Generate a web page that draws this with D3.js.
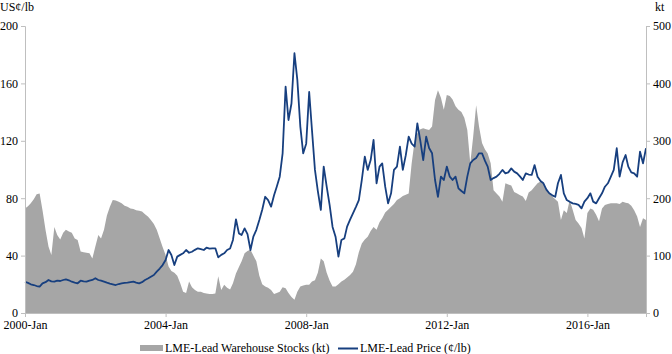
<!DOCTYPE html>
<head>
    <style>
        body { margin: 0; background: #fff; }
        svg { display: block; font-family: "Liberation Serif", "Times New Roman", serif; }
        .axis path, .axis line { stroke: #bfbfbf; }
        .axis text { fill: #000; font-size: 12px; font-family: "Liberation Serif", serif; }
    </style>
</head>
<body>
    <script src="https://d3js.org/d3.v7.min.js"></script>
    <script>
        // monthly values, 2000-Jan .. 2017-Sep
        var price = [
            21.8, 21, 20, 19.5, 18.8, 18.4, 20.7, 21.5, 23, 22, 21.8, 22.5,
            22.3, 23, 23.5, 22.8, 21.8, 21.2, 20.7, 22.5, 22, 21.8, 22.5, 23,
            24.2, 23, 22.5, 21.8, 21.1, 20.5, 20, 19.5, 20.2, 20.7, 21, 21.1,
            21.5, 21.8, 21.2, 20.7, 21.5, 23, 24, 25.3, 26.5, 28.8, 31, 33.4,
            36.9, 43.9, 40.4, 33.4, 39.3, 40.5, 41.6, 43.9, 42, 42.7, 44, 45.1,
            44.5, 43.9, 45.5, 44.8, 45.1, 45.1, 38.8, 40.5, 41.6, 43.9, 45, 50.9,
            65.3, 55.5, 54.4, 59, 55, 43.9, 53.2, 58, 64.8, 72, 81, 78.7,
            74.1, 82, 88, 95, 111.3, 157.7, 134.5, 146, 181, 162.4, 129.9, 111.3,
            118, 154, 127.5, 99.7, 85, 71.8, 102, 88, 75, 60, 53.2, 39.3,
            50.9, 52, 60.2, 65, 69.5, 74, 78.7, 92.7, 108.9, 99.7, 106.6, 120.6,
            90.4, 102, 104.3, 88, 76.4, 83.4, 99.7, 102, 116, 99.7, 110, 122.9,
            118, 116, 132.2, 120, 106.6, 122.9, 115, 111.3, 92.7, 81, 95, 92.7,
            102, 95, 92.7, 95, 86.9, 85, 83.4, 95, 104.3, 106.6, 108, 111.3,
            111.3, 106, 102, 92.7, 94, 95, 97, 99.7, 97.3, 98, 100.8, 98.5,
            97.3, 95, 92.7, 97.3, 96.5, 96.2, 103.1, 95, 92, 90.4, 86, 83.4,
            82, 81, 90.4, 96.2, 83.4, 78.7, 77.5, 76.4, 76, 75.3, 72.9, 77.6,
            80, 83.4, 77.6, 76.4, 80, 83.4, 88, 90.4, 95, 99.7, 114.8, 95,
            105, 110.1, 102, 98, 97.3, 95, 112.4, 104.3, 114.8
        ];

        var stocks = [
            182, 186, 191, 198, 207, 208, 179, 145, 116, 101, 150, 136,
            128, 140, 145, 142, 140, 130, 127, 107, 106, 105, 104, 95,
            116, 136, 130, 145, 170, 185, 197, 196, 194, 191, 187, 185,
            182, 181, 179, 178, 177, 172, 168, 162, 155, 145, 130, 115,
            101, 81, 73, 70, 65, 52, 37, 35, 55, 45, 40, 37,
            37, 35, 34, 33, 33, 34, 64, 40, 49, 44, 41, 52,
            69, 80, 90, 104, 108, 110, 100, 90, 65, 50, 46, 44,
            40, 33, 35, 37, 45, 43, 35, 28, 23, 37, 46, 48,
            49, 49, 55, 57, 70, 95, 90, 70, 56, 46, 46, 50,
            55, 58, 62, 66, 72, 85, 106, 121, 128, 133, 143, 150,
            145, 158, 165, 175, 180, 185, 190, 197, 200, 204, 206, 208,
            261, 300, 313, 320, 322, 320, 319, 325, 371, 388, 375, 354,
            380, 378, 372, 360, 354, 350, 340, 319, 261, 307, 362, 325,
            296, 285, 278, 261, 214, 208, 203, 194, 226, 224, 222, 211,
            208, 205, 203, 195, 210, 214, 220, 226, 229, 225, 214, 208,
            203, 198, 194, 162, 179, 174, 197, 180, 162, 156, 148, 130,
            174, 182, 180, 171, 160, 182, 188, 190, 191, 191, 191, 190,
            194, 192, 191, 187, 179, 168, 150, 165, 162
        ];

        var tickYears = [2000, 2004, 2008, 2012, 2016];
        var priceTicks = [0, 40, 80, 120, 160, 200];
        var stockTicks = [0, 100, 200, 300, 400, 500];

        var start = new Date(2000, 0, 1);
        var months = price.map((d, i) => d3.timeMonth.offset(start, i));

        var width = 672, height = 354;
        var svg = d3.select('body')
                    .append('svg')
                    .attr('width', width)
                    .attr('height', height);

        var x = d3.scaleTime()
                  .domain([start, months[months.length - 1]])
                  .range([25, 646]);
        var yLeft = d3.scaleLinear().domain([0, 200]).range([313, 26]);
        var yRight = d3.scaleLinear().domain([0, 500]).range([313, 26]);

        var area = d3.area()
                     .x((d, i) => x(months[i]))
                     .y0(yRight(0))
                     .y1((d) => yRight(d));

        svg.append('path')
           .datum(stocks)
           .attr('d', area)
           .attr('fill', '#a6a6a6');

        var line = d3.line()
                     .x((d, i) => x(months[i]))
                     .y((d) => yLeft(d));

        svg.append('path')
           .datum(price)
           .attr('d', line)
           .attr('fill', 'none')
           .attr('stroke', '#173f7f')
           .attr('stroke-width', 1.8)
           .attr('stroke-linejoin', 'round');

        var fmt = d3.timeFormat('%Y-%b');
        svg.append('g')
           .attr('class', 'axis')
           .attr('transform', 'translate(0,313)')
           .call(d3.axisBottom(x)
                   .tickValues(tickYears.map((y) => new Date(y, 0, 1)))
                   .tickFormat(fmt)
                   .tickSizeOuter(0)
                   .tickSize(4)
                   .tickPadding(3));

        svg.append('g')
           .attr('class', 'axis')
           .attr('transform', 'translate(25,0)')
           .call(d3.axisLeft(yLeft)
                   .tickValues(priceTicks)
                   .tickSizeOuter(0)
                   .tickSize(4)
                   .tickPadding(3));

        svg.append('g')
           .attr('class', 'axis')
           .attr('transform', 'translate(646,0)')
           .call(d3.axisRight(yRight)
                   .tickValues(stockTicks)
                   .tickSizeOuter(0)
                   .tickSize(4)
                   .tickPadding(3));

        svg.append('text')
           .attr('x', 0)
           .attr('y', 11)
           .attr('font-size', 12)
           .text('US¢/lb');

        svg.append('text')
           .attr('x', 655)
           .attr('y', 11)
           .attr('font-size', 12)
           .text('kt');

        // legend
        var legend = svg.append('g').attr('font-size', 12);
        legend.append('rect')
              .attr('x', 140)
              .attr('y', 345)
              .attr('width', 23)
              .attr('height', 6)
              .attr('fill', '#a6a6a6');
        legend.append('text')
              .attr('x', 165)
              .attr('y', 352)
              .text('LME-Lead Warehouse Stocks (kt)');
        legend.append('line')
              .attr('x1', 338)
              .attr('x2', 358)
              .attr('y1', 348.5)
              .attr('y2', 348.5)
              .attr('stroke', '#173f7f')
              .attr('stroke-width', 2);
        legend.append('text')
              .attr('x', 360)
              .attr('y', 352)
              .text('LME-Lead Price (¢/lb)');
    </script>
</body>
